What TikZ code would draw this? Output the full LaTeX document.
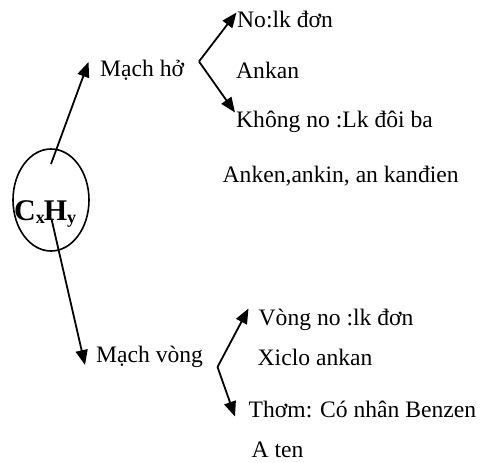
\documentclass[tikz,border=0pt]{standalone}
\usepackage{fontspec}
\setmainfont{Liberation Serif}
\usetikzlibrary{shapes.geometric,arrows.meta}
\tikzset{
  lbl/.style={anchor=base west, inner sep=0pt, font=\fontsize{23.6}{28}\selectfont},
  arr/.style={line width=1.8pt, -{Triangle[length=15pt,width=12pt]}}
}
\begin{document}
\begin{tikzpicture}[x=1pt,y=-1pt]
\useasboundingbox (0,0) rectangle (482,463);
% central ellipse
\node[draw, ellipse, line width=1.6pt, minimum width=76pt, minimum height=102pt, inner sep=0pt] (e) at (51,200) {};
\node[anchor=base west, inner sep=0pt, font=\fontsize{30}{34}\selectfont\bfseries] (cxhy) at (14,220)
  {C\raisebox{-3pt}{\fontsize{18}{18}\selectfont x}\kern-1pt H\raisebox{-3pt}{\fontsize{18}{18}\selectfont y}};
% labels
\node[lbl] (mh) at (100,76) {Mạch hở};
\node[lbl] (mv) at (96,362) {Mạch vòng};
\node[lbl] (no) at (237,27.5) {No:lk đơn};
\node[lbl] (ankan) at (236,78.5) {Ankan};
\node[lbl] (kno) at (236,127) {Không no :Lk đôi ba};
\node[lbl] (anken) at (222.5,182) {Anken,ankin, an kanđien};
\node[lbl] (vno) at (258.5,325) {Vòng no :lk đơn};
\node[lbl] (xiclo) at (257.5,365.5) {Xiclo ankan};
\node[lbl] (thom) at (248.5,417.5) {Thơm: Có nhân Benzen};
\node[lbl] (aten) at (251.5,457) {A ten};
% connector points
\coordinate (u0) at (51,164);
\coordinate (u1) at (88.5,62);
\coordinate (d0) at (51.5,219);
\coordinate (d1) at (85,365);
\coordinate (v1) at (199,61.5);
\coordinate (t1) at (236.5,12.5);
\coordinate (b1) at (235,112.5);
\coordinate (v2) at (217.5,367);
\coordinate (t2) at (248.5,308.5);
\coordinate (b2) at (235,416.5);
% arrows
\draw[arr] (u0) -- (u1);
\draw[arr] (d0) -- (d1);
\draw[arr] (v1) -- (t1);
\draw[arr] (v1) -- (b1);
\draw[arr] (v2) -- (t2);
\draw[arr] (v2) -- (b2);
\end{tikzpicture}
\end{document}
